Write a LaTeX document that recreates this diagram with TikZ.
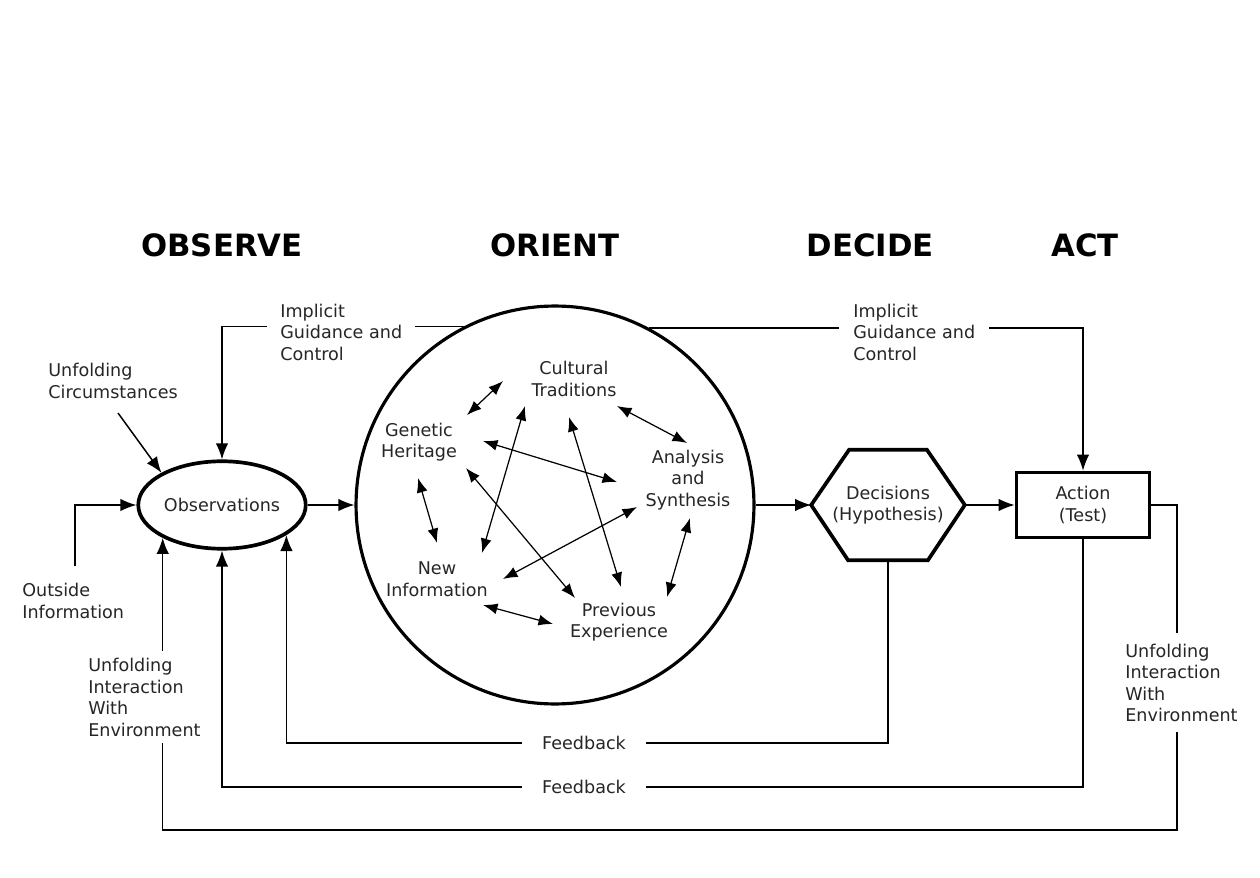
\documentclass[tikz,border=0pt]{standalone}
\usepackage{fontspec}
\setmainfont{DejaVu Sans}
\usetikzlibrary{arrows.meta,shapes.geometric,calc}
\begin{document}
\begin{tikzpicture}[x=0.02cm,y=-0.02cm,
  txt/.style={font=\fontsize{10}{12.2}\selectfont, text=black!85, align=left, inner sep=0pt},
  ctxt/.style={font=\fontsize{10}{12.2}\selectfont, text=black!85, align=center, inner sep=0pt},
  ttl/.style={font=\fontsize{17.5}{21}\selectfont\bfseries, inner sep=0pt},
  heavy/.style={draw, line width=2.1pt, inner sep=0pt},
  conn/.style={line width=0.85pt, -{Latex[length=0.32cm,width=0.25cm]}},
  inarr/.style={line width=0.7pt, {Latex[length=0.29cm,width=0.22cm]}-{Latex[length=0.29cm,width=0.22cm]}},
  gaplbl/.style={fill=white}
]
\useasboundingbox (0,0) rectangle (1260,878);

% titles
\node[ttl] (tobs) at (222,245) {OBSERVE};
\node[ttl] (tori) at (555,245) {ORIENT};
\node[ttl] (tdec) at (870,245) {DECIDE};
\node[ttl] (tact) at (1085,245) {ACT};

% main shapes
\node[heavy, ellipse, minimum width=3.35cm, minimum height=1.75cm, ctxt] (obs) at (222,505) {Observations};
\node[draw, line width=1.8pt, circle, minimum size=7.96cm, inner sep=0pt] (ori) at (555,505) {};
\node[ctxt, minimum width=3.06cm, minimum height=2.2cm] (dec) at (888,505) {Decisions\\(Hypothesis)};
\draw[line width=2.1pt, line join=miter] (dec.west) -- ($(dec.north west)+(38,0)$) -- ($(dec.north east)+(-38,0)$) -- (dec.east) -- ($(dec.south east)+(-37,0)$) -- ($(dec.south west)+(37,0)$) -- cycle;
\node[heavy, rectangle, minimum width=2.66cm, minimum height=1.3cm, ctxt] (act) at (1083,505) {Action\\(Test)};

% inner orient nodes
\node[ctxt] (cul) at (574,379) {Cultural\\Traditions};
\node[ctxt] (gen) at (419,442) {Genetic\\Heritage};
\node[ctxt] (ana) at (688,480) {Analysis\\and\\Synthesis};
\node[ctxt] (new) at (437,579) {New\\Information};
\node[ctxt] (pre) at (619,622) {Previous\\Experience};

% inner arrows
\draw[inarr] ([shift={(48,-27)}]gen.center) -- ([shift={(-71,2)}]cul.center);
\draw[inarr] ([shift={(43,27)}]cul.center) -- ([shift={(-1,-37)}]ana.center);
\draw[inarr] ([shift={(2,38)}]ana.center) -- ([shift={(48,-25)}]pre.center);
\draw[inarr] ([shift={(-66,2)}]pre.center) -- ([shift={(46,26)}]new.center);
\draw[inarr] ([shift={(0,-36)}]new.center) -- ([shift={(-1,36)}]gen.center);
\draw[inarr] ([shift={(-49,27)}]cul.center) -- ([shift={(45,-26)}]new.center);
\draw[inarr] ([shift={(-5,38)}]cul.center) -- ([shift={(2,-35)}]pre.center);
\draw[inarr] ([shift={(64,-1)}]gen.center) -- ([shift={(-71,2)}]ana.center);
\draw[inarr] ([shift={(47,26)}]gen.center) -- ([shift={(-44,-24)}]pre.center);
\draw[inarr] ([shift={(-51,27)}]ana.center) -- ([shift={(66,0)}]new.center);

% main flow
\draw[conn] (obs.east) -- (ori.west);
\draw[conn] (ori.east) -- (dec.west);
\draw[conn] (dec.east) -- (act.west);

% implicit guidance
\draw[conn] (ori.117.5) -| (obs.north);
\draw[conn] (ori.62.5) -| (act.north);

% outside information and circumstances
\coordinate (oi) at (75,566);
\draw[conn] (oi) |- (obs.west);
\coordinate (ucs) at (118,413);
\draw[conn] (ucs) -- (obs.152);

% feedback loops
\coordinate (fb1) at (584,743);
\coordinate (fb2) at (584,787);
\coordinate (ue) at (1177,830);
\draw[conn] (dec.south) |- (fb1) -| (obs.335.4);
\draw[conn] (act.south) |- (fb2) -| (obs.south);
\draw[conn] (act.east) -| (ue) -| (obs.209.4);

% labels
\node[txt, anchor=north west] (lblcirc) at (48,363) {Unfolding\\Circumstances};
\node[txt, anchor=north west, gaplbl, inner xsep=0.26cm, inner ysep=1pt] (lblig1) at ($(280,303)+(-13,-1)$) {Implicit\\Guidance and\\Control};
\node[txt, anchor=north west, gaplbl, inner xsep=0.28cm, inner ysep=1pt] (lblig2) at ($(853,303)+(-14,-1)$) {Implicit\\Guidance and\\Control};
\node[txt, anchor=north west] (lbloi) at (22,583) {Outside\\Information};
\node[txt, anchor=north west, gaplbl, inner ysep=4pt] (lbluie1) at ($(88,658)+(0,-7)$) {Unfolding\\Interaction\\With\\Environment};
\node[txt, anchor=north west, gaplbl, inner ysep=6pt] (lbluie2) at ($(1125,643)+(0,-10)$) {Unfolding\\Interaction\\With\\Environment};
\node[txt, gaplbl, inner xsep=0.4cm, inner ysep=2pt] (lblfb1) at (fb1) {Feedback};
\node[txt, gaplbl, inner xsep=0.4cm, inner ysep=2pt] (lblfb2) at (fb2) {Feedback};
\end{tikzpicture}
\end{document}
